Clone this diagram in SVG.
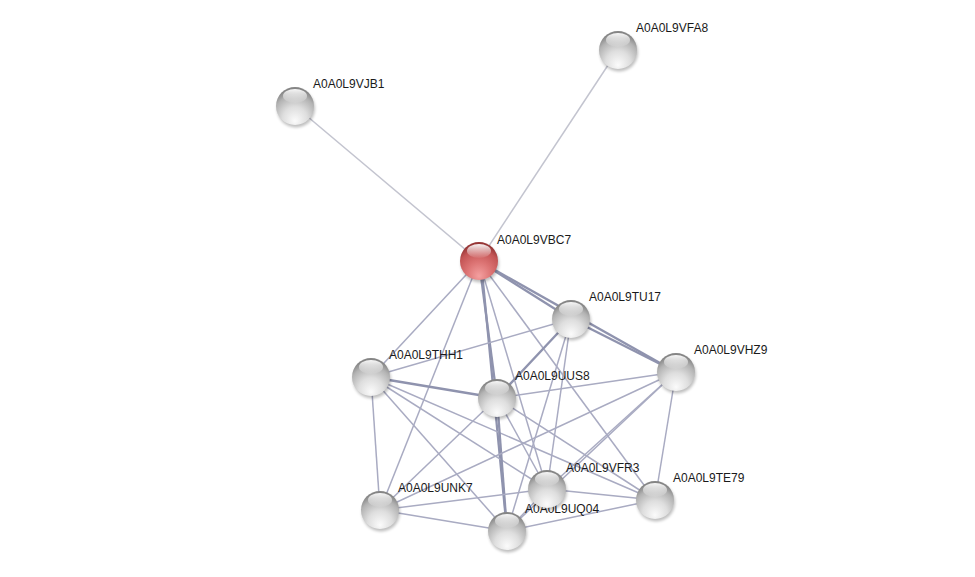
<svg xmlns="http://www.w3.org/2000/svg" xmlns:xlink="http://www.w3.org/1999/xlink" width="975" height="577" viewBox="0 0 975 577">
<style>
.bg{fill:#ffffff}
.e{stroke:#a9abc2;stroke-width:1.5;fill:none}
.el{stroke:#c3c4cf;stroke-width:1.5;fill:none}
.et{stroke:#8f93ae;stroke-width:2.3;fill:none}
.lbl{font-family:"Liberation Sans",Arial,sans-serif;font-size:12px;fill:#1a1a1a}
.sh{fill:#000;opacity:0.25;filter:url(#blur)}
.ball{fill:url(#gG)}
.rball{fill:url(#gR)}
.hl{fill:url(#gH)}
</style>
<defs>
<filter id="blur" x="-50%" y="-50%" width="200%" height="200%"><feGaussianBlur stdDeviation="1.5"/></filter>
<radialGradient id="gG" cx="0.5" cy="0.78" r="0.72" fx="0.5" fy="0.9">
<stop offset="0" stop-color="#fbfbfb"/>
<stop offset="0.45" stop-color="#dedede"/>
<stop offset="0.8" stop-color="#b3b3b3"/>
<stop offset="1" stop-color="#858585"/>
</radialGradient>
<radialGradient id="gR" cx="0.5" cy="0.78" r="0.72" fx="0.5" fy="0.9">
<stop offset="0" stop-color="#f4a0a0"/>
<stop offset="0.45" stop-color="#dc7373"/>
<stop offset="0.8" stop-color="#c45555"/>
<stop offset="1" stop-color="#963636"/>
</radialGradient>
<linearGradient id="gH" x1="0" y1="0" x2="0" y2="1">
<stop offset="0" stop-color="#ffffff" stop-opacity="0.95"/>
<stop offset="1" stop-color="#ffffff" stop-opacity="0.05"/>
</linearGradient>
<g id="sphere">
<circle class="sh" cx="1" cy="2.5" r="19"/>
<circle class="ball" r="19"/>
<ellipse class="hl" cx="0" cy="-10" rx="12" ry="7"/>
</g>
<g id="rsphere">
<circle class="sh" cx="1" cy="2.5" r="19"/>
<circle class="rball" r="19"/>
<ellipse class="hl" cx="0" cy="-10" rx="12" ry="7"/>
</g>
</defs>
<rect class="bg" width="975" height="577"/>
<g id="edges">
<line class="el" x1="479" y1="261" x2="295" y2="106"/>
<line class="el" x1="479" y1="261" x2="618" y2="50"/>
<line class="et" x1="479" y1="261" x2="571" y2="319"/>
<line class="et" x1="479" y1="261" x2="676" y2="372"/>
<line class="e" x1="479" y1="261" x2="371" y2="377"/>
<line class="et" x1="479" y1="261" x2="497" y2="398"/>
<line class="et" x1="481" y1="261" x2="507" y2="531"/>
<line class="e" x1="479" y1="261" x2="547" y2="489"/>
<line class="e" x1="479" y1="261" x2="380" y2="510"/>
<line class="e" x1="479" y1="261" x2="655" y2="500"/>
<line class="e" x1="571" y1="319" x2="371" y2="377"/>
<line class="et" x1="571" y1="319" x2="497" y2="398"/>
<line class="et" x1="571" y1="319" x2="676" y2="372"/>
<line class="e" x1="571" y1="319" x2="547" y2="489"/>
<line class="e" x1="571" y1="319" x2="507" y2="531"/>
<line class="et" x1="371" y1="377" x2="497" y2="398"/>
<line class="e" x1="371" y1="377" x2="380" y2="510"/>
<line class="e" x1="371" y1="377" x2="547" y2="489"/>
<line class="e" x1="371" y1="377" x2="507" y2="531"/>
<line class="e" x1="371" y1="377" x2="655" y2="500"/>
<line class="e" x1="497" y1="398" x2="676" y2="372"/>
<line class="e" x1="497" y1="398" x2="380" y2="510"/>
<line class="et" x1="497" y1="398" x2="507" y2="531"/>
<line class="e" x1="497" y1="398" x2="547" y2="489"/>
<line class="e" x1="497" y1="398" x2="655" y2="500"/>
<line class="e" x1="676" y1="372" x2="547" y2="489"/>
<line class="e" x1="676" y1="372" x2="507" y2="531"/>
<line class="e" x1="676" y1="372" x2="380" y2="510"/>
<line class="e" x1="676" y1="372" x2="655" y2="500"/>
<line class="e" x1="380" y1="510" x2="547" y2="489"/>
<line class="e" x1="380" y1="510" x2="507" y2="531"/>
<line class="e" x1="507" y1="531" x2="655" y2="500"/>
<line class="e" x1="547" y1="489" x2="655" y2="500"/>
<line class="e" x1="547" y1="489" x2="507" y2="531"/>
</g>
<g id="n_VFA8"><use xlink:href="#sphere" href="#sphere" x="618" y="50"/><text class="lbl" x="636" y="32">A0A0L9VFA8</text></g>
<g id="n_VJB1"><use xlink:href="#sphere" href="#sphere" x="295" y="106"/><text class="lbl" x="313" y="88">A0A0L9VJB1</text></g>
<g id="n_VBC7"><use xlink:href="#rsphere" href="#rsphere" x="479" y="261"/><text class="lbl" x="497" y="244">A0A0L9VBC7</text></g>
<g id="n_TU17"><use xlink:href="#sphere" href="#sphere" x="571" y="319"/><text class="lbl" x="589" y="301">A0A0L9TU17</text></g>
<g id="n_THH1"><use xlink:href="#sphere" href="#sphere" x="371" y="377"/><text class="lbl" x="389" y="359">A0A0L9THH1</text></g>
<g id="n_VHZ9"><use xlink:href="#sphere" href="#sphere" x="676" y="372"/><text class="lbl" x="694" y="354">A0A0L9VHZ9</text></g>
<g id="n_UUS8"><use xlink:href="#sphere" href="#sphere" x="497" y="398"/><text class="lbl" x="515" y="380">A0A0L9UUS8</text></g>
<g id="n_TE79"><use xlink:href="#sphere" href="#sphere" x="655" y="500"/><text class="lbl" x="673" y="482">A0A0L9TE79</text></g>
<g id="n_UNK7"><use xlink:href="#sphere" href="#sphere" x="380" y="510"/><text class="lbl" x="398" y="492">A0A0L9UNK7</text></g>
<g id="n_UQ04"><use xlink:href="#sphere" href="#sphere" x="507" y="531"/><text class="lbl" x="525" y="513">A0A0L9UQ04</text></g>
<g id="n_VFR3"><use xlink:href="#sphere" href="#sphere" x="547" y="489"/><text class="lbl" x="566" y="472">A0A0L9VFR3</text></g>
</svg>
